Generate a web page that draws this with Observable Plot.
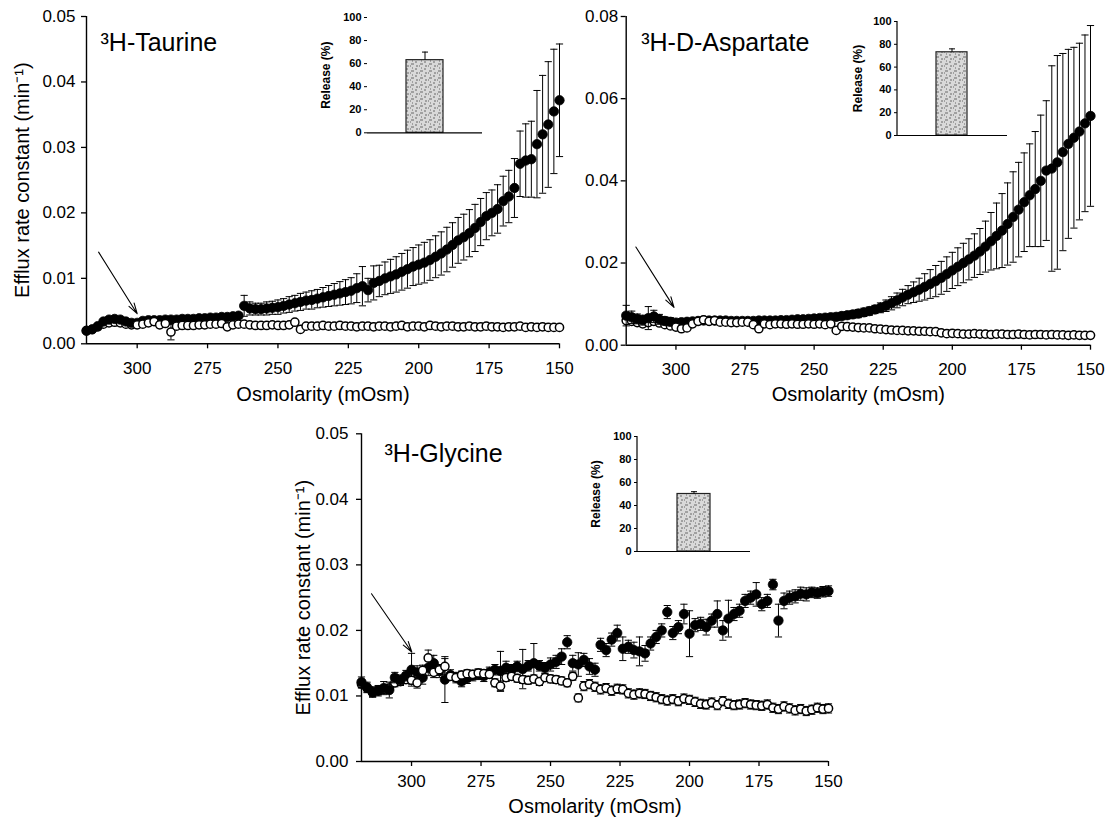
<!DOCTYPE html>
<html><head><meta charset="utf-8">
<script src="https://cdn.jsdelivr.net/npm/d3@7"></script>
<script src="https://cdn.jsdelivr.net/npm/@observablehq/plot@0.6"></script>
<style>
body{margin:0;background:#fff;}
#fig{position:relative;width:1107px;height:824px;overflow:hidden;background:#fff;}
#fig svg{position:absolute;}
</style></head><body><div id="fig"></div>
<script>
// ---------- data ----------
const osm = [
318,316,314,312,310,308,306,304,302,300,
298,296,294,292,290,288,286,284,282,280,
278,276,274,272,270,268,266,264,262,260,
258,256,254,252,250,248,246,244,242,240,
238,236,234,232,230,228,226,224,222,220,
218,216,214,212,210,208,206,204,202,200,
198,196,194,192,190,188,186,184,182,180,
178,176,174,172,170,168,166,164,162,160,
158,156,154,152,150];
const osmTicks = [300,275,250,225,200,175,150];
const osmDomain = [318,150];
const gradientStart = 300;

// Taurine
const tauFilled = [
0.0020,0.0022,0.0027,0.0034,0.0037,0.0038,0.0037,0.0034,0.0032,0.0032,
0.0035,0.0036,0.0036,0.0036,0.0037,0.0037,0.0037,0.0038,0.0038,0.0038,
0.0039,0.0039,0.0040,0.0040,0.0041,0.0041,0.0042,0.0043,0.0058,0.0054,
0.0053,0.0053,0.0054,0.0055,0.0056,0.0058,0.0060,0.0062,0.0064,0.0066,
0.0067,0.0069,0.0071,0.0073,0.0075,0.0077,0.0079,0.0081,0.0085,0.0088,
0.0082,0.0093,0.0096,0.0100,0.0103,0.0106,0.0110,0.0114,0.0118,0.0121,
0.0124,0.0128,0.0133,0.0138,0.0144,0.0151,0.0158,0.0163,0.0169,0.0177,
0.0186,0.0195,0.0200,0.0206,0.0218,0.0225,0.0238,0.0275,0.0280,0.0282,
0.0305,0.0320,0.0335,0.0355,0.0372];
const tauFilledErr = [
0.0002,0.0002,0.0003,0.0003,0.0003,0.0003,0.0003,0.0003,0.0003,0.0002,
0.0002,0.0002,0.0002,0.0002,0.0002,0.0002,0.0002,0.0002,0.0002,0.0002,
0.0002,0.0002,0.0002,0.0002,0.0002,0.0003,0.0003,0.0003,0.0016,0.0010,
0.0009,0.0009,0.0010,0.0010,0.0011,0.0011,0.0012,0.0012,0.0013,0.0013,
0.0014,0.0014,0.0015,0.0016,0.0017,0.0018,0.0019,0.0020,0.0022,0.0030,
0.0018,0.0026,0.0024,0.0025,0.0026,0.0027,0.0028,0.0029,0.0029,0.0030,
0.0031,0.0031,0.0032,0.0033,0.0034,0.0034,0.0035,0.0035,0.0036,0.0036,
0.0036,0.0036,0.0035,0.0037,0.0038,0.0040,0.0045,0.0050,0.0056,0.0058,
0.0082,0.0090,0.0096,0.0095,0.0086];
const tauOpen = [
0.0020,0.0022,0.0026,0.0030,0.0032,0.0033,0.0032,0.0030,0.0029,0.0029,
0.0030,0.0032,0.0034,0.0029,0.0031,0.0018,0.0027,0.0028,0.0028,0.0028,
0.0029,0.0029,0.0030,0.0030,0.0031,0.0026,0.0029,0.0030,0.0030,0.0029,
0.0028,0.0028,0.0028,0.0029,0.0028,0.0028,0.0029,0.0033,0.0022,0.0027,
0.0027,0.0027,0.0028,0.0027,0.0027,0.0028,0.0027,0.0027,0.0026,0.0027,
0.0027,0.0026,0.0027,0.0027,0.0026,0.0027,0.0028,0.0026,0.0027,0.0027,
0.0026,0.0028,0.0027,0.0026,0.0027,0.0027,0.0026,0.0026,0.0027,0.0026,
0.0026,0.0027,0.0026,0.0026,0.0025,0.0026,0.0026,0.0027,0.0025,0.0026,
0.0025,0.0026,0.0025,0.0025,0.0025];
const tauOpenErr = [
0.0002,0.0002,0.0002,0.0002,0.0002,0.0002,0.0002,0.0002,0.0002,0.0002,
0.0002,0.0002,0.0003,0.0002,0.0002,0.0012,0.0002,0.0002,0.0002,0.0002,
0.0002,0.0002,0.0002,0.0002,0.0002,0.0002,0.0002,0.0002,0.0002,0.0002,
0.0002,0.0002,0.0002,0.0002,0.0002,0.0002,0.0002,0.0002,0.0002,0.0002,
0.0002,0.0002,0.0002,0.0002,0.0002,0.0002,0.0002,0.0002,0.0002,0.0002,
0.0002,0.0002,0.0002,0.0002,0.0002,0.0002,0.0002,0.0002,0.0002,0.0002,
0.0002,0.0002,0.0002,0.0002,0.0002,0.0002,0.0002,0.0002,0.0002,0.0002,
0.0002,0.0002,0.0002,0.0002,0.0002,0.0002,0.0002,0.0002,0.0002,0.0002,
0.0002,0.0002,0.0002,0.0002,0.0002];
const tauYTicks = [0,0.01,0.02,0.03,0.04,0.05];

// D-Aspartate
const aspFilled = [
0.0072,0.0068,0.0064,0.0061,0.0066,0.0070,0.0063,0.0059,0.0057,0.0055,
0.0056,0.0057,0.0058,0.0059,0.0060,0.0060,0.0060,0.0060,0.0060,0.0059,
0.0059,0.0059,0.0059,0.0059,0.0060,0.0060,0.0060,0.0060,0.0061,0.0061,
0.0062,0.0063,0.0063,0.0064,0.0065,0.0066,0.0067,0.0068,0.0069,0.0071,
0.0073,0.0075,0.0077,0.0080,0.0083,0.0087,0.0091,0.0096,0.0102,0.0109,
0.0116,0.0123,0.0129,0.0135,0.0142,0.0149,0.0156,0.0164,0.0173,0.0182,
0.0191,0.0200,0.0209,0.0218,0.0228,0.0240,0.0253,0.0266,0.0279,0.0295,
0.0312,0.0330,0.0348,0.0365,0.0380,0.0400,0.0425,0.0430,0.0445,0.0470,
0.0490,0.0505,0.0520,0.0540,0.0558];
const aspFilledErr = [
0.0025,0.0015,0.0012,0.0012,0.0028,0.0015,0.0012,0.0010,0.0010,0.0008,
0.0008,0.0007,0.0007,0.0007,0.0007,0.0007,0.0007,0.0007,0.0007,0.0007,
0.0007,0.0007,0.0007,0.0007,0.0007,0.0007,0.0007,0.0007,0.0007,0.0007,
0.0007,0.0007,0.0007,0.0008,0.0008,0.0008,0.0008,0.0008,0.0009,0.0009,
0.0009,0.0009,0.0010,0.0010,0.0010,0.0010,0.0012,0.0014,0.0016,0.0018,
0.0020,0.0022,0.0025,0.0028,0.0032,0.0035,0.0038,0.0040,0.0042,0.0044,
0.0046,0.0048,0.0050,0.0053,0.0056,0.0062,0.0070,0.0080,0.0090,0.0100,
0.0110,0.0115,0.0120,0.0125,0.0140,0.0160,0.0170,0.0250,0.0260,0.0240,
0.0230,0.0220,0.0215,0.0215,0.0220];
const aspOpen = [
0.0060,0.0058,0.0055,0.0052,0.0055,0.0058,0.0054,0.0050,0.0047,0.0044,
0.0040,0.0042,0.0052,0.0058,0.0062,0.0058,0.0060,0.0056,0.0056,0.0055,
0.0055,0.0056,0.0056,0.0050,0.0040,0.0052,0.0050,0.0052,0.0052,0.0051,
0.0052,0.0051,0.0051,0.0052,0.0051,0.0052,0.0050,0.0052,0.0036,0.0046,
0.0045,0.0044,0.0043,0.0042,0.0042,0.0040,0.0039,0.0038,0.0037,0.0036,
0.0036,0.0035,0.0035,0.0034,0.0034,0.0033,0.0033,0.0030,0.0028,0.0029,
0.0028,0.0027,0.0027,0.0028,0.0027,0.0027,0.0026,0.0027,0.0027,0.0026,
0.0026,0.0027,0.0026,0.0025,0.0026,0.0026,0.0025,0.0026,0.0025,0.0025,
0.0024,0.0025,0.0024,0.0024,0.0024];
const aspOpenErr = [
0.0003,0.0003,0.0003,0.0003,0.0003,0.0003,0.0003,0.0003,0.0003,0.0003,
0.0003,0.0003,0.0003,0.0003,0.0003,0.0003,0.0003,0.0003,0.0003,0.0003,
0.0003,0.0003,0.0003,0.0003,0.0003,0.0003,0.0003,0.0003,0.0003,0.0003,
0.0003,0.0003,0.0003,0.0003,0.0003,0.0003,0.0003,0.0003,0.0003,0.0003,
0.0003,0.0003,0.0003,0.0003,0.0003,0.0003,0.0003,0.0003,0.0003,0.0003,
0.0003,0.0003,0.0003,0.0003,0.0003,0.0003,0.0003,0.0003,0.0003,0.0003,
0.0003,0.0003,0.0003,0.0003,0.0003,0.0003,0.0003,0.0003,0.0003,0.0003,
0.0003,0.0003,0.0003,0.0003,0.0003,0.0003,0.0003,0.0003,0.0003,0.0003,
0.0003,0.0003,0.0003,0.0003,0.0003];
const aspYTicks = [0,0.02,0.04,0.06,0.08];

// Glycine
const glyFilled = [
0.0121,0.0113,0.0106,0.0108,0.0112,0.0109,0.0128,0.0124,0.0131,0.0140,
0.0136,0.0128,0.0143,0.0150,0.0138,0.0125,0.0132,0.0128,0.0122,0.0127,
0.0131,0.0133,0.0130,0.0136,0.0140,0.0138,0.0143,0.0140,0.0145,0.0141,
0.0146,0.0150,0.0146,0.0143,0.0148,0.0152,0.0160,0.0182,0.0150,0.0148,
0.0155,0.0145,0.0140,0.0178,0.0170,0.0186,0.0196,0.0172,0.0175,0.0170,
0.0168,0.0165,0.0180,0.0190,0.0200,0.0228,0.0196,0.0205,0.0225,0.0195,
0.0208,0.0210,0.0205,0.0215,0.0225,0.0200,0.0218,0.0225,0.0230,0.0245,
0.0250,0.0255,0.0240,0.0245,0.0270,0.0215,0.0245,0.0250,0.0252,0.0256,
0.0255,0.0258,0.0257,0.0259,0.0260];
const glyFilledErr = [
0.0008,0.0008,0.0008,0.0008,0.0010,0.0012,0.0008,0.0008,0.0008,0.0025,
0.0010,0.0010,0.0012,0.0012,0.0010,0.0035,0.0008,0.0008,0.0008,0.0008,
0.0008,0.0008,0.0008,0.0008,0.0008,0.0030,0.0010,0.0008,0.0008,0.0030,
0.0008,0.0030,0.0008,0.0008,0.0010,0.0010,0.0012,0.0010,0.0012,0.0018,
0.0010,0.0012,0.0010,0.0010,0.0010,0.0010,0.0012,0.0018,0.0010,0.0012,
0.0022,0.0012,0.0010,0.0010,0.0010,0.0010,0.0010,0.0010,0.0015,0.0035,
0.0010,0.0010,0.0012,0.0010,0.0020,0.0015,0.0028,0.0010,0.0010,0.0010,
0.0010,0.0018,0.0010,0.0010,0.0008,0.0025,0.0012,0.0010,0.0010,0.0010,
0.0010,0.0008,0.0008,0.0008,0.0008];
const glyOpen = [
0.0118,0.0112,0.0105,0.0108,0.0110,0.0112,0.0120,0.0122,0.0125,0.0124,
0.0120,0.0139,0.0158,0.0136,0.0140,0.0145,0.0130,0.0128,0.0132,0.0134,
0.0133,0.0135,0.0134,0.0133,0.0120,0.0115,0.0128,0.0130,0.0127,0.0125,
0.0124,0.0126,0.0122,0.0128,0.0126,0.0125,0.0123,0.0120,0.0130,0.0097,
0.0115,0.0118,0.0114,0.0110,0.0112,0.0108,0.0111,0.0110,0.0104,0.0102,
0.0104,0.0103,0.0100,0.0098,0.0095,0.0093,0.0095,0.0092,0.0096,0.0094,
0.0091,0.0088,0.0087,0.0090,0.0086,0.0092,0.0088,0.0086,0.0087,0.0089,
0.0087,0.0086,0.0085,0.0087,0.0082,0.0080,0.0084,0.0081,0.0078,0.0080,
0.0077,0.0079,0.0082,0.0080,0.0081];
const glyOpenErr = [
0.0006,0.0006,0.0006,0.0006,0.0006,0.0006,0.0006,0.0006,0.0006,0.0006,
0.0008,0.0008,0.0012,0.0008,0.0008,0.0012,0.0006,0.0006,0.0006,0.0006,
0.0006,0.0006,0.0006,0.0006,0.0006,0.0008,0.0006,0.0006,0.0006,0.0006,
0.0006,0.0006,0.0006,0.0006,0.0006,0.0006,0.0006,0.0006,0.0006,0.0006,
0.0007,0.0007,0.0007,0.0007,0.0007,0.0007,0.0007,0.0007,0.0007,0.0007,
0.0007,0.0007,0.0007,0.0007,0.0007,0.0007,0.0007,0.0007,0.0007,0.0007,
0.0007,0.0007,0.0007,0.0007,0.0007,0.0007,0.0007,0.0007,0.0007,0.0007,
0.0007,0.0007,0.0007,0.0007,0.0007,0.0007,0.0007,0.0007,0.0007,0.0007,
0.0007,0.0007,0.0007,0.0007,0.0007];
const glyYTicks = [0,0.01,0.02,0.03,0.04,0.05];

// arrows [x1, y1, x2, y2] in data units
const tauArrow = [313.7, 0.0140, 300.0, 0.0046];
const aspArrow = [314.5, 0.0239, 300.7, 0.0092];
const glyArrow = [314.4, 0.0256, 299.9, 0.0167];

// insets: release (%)
const releaseCats = ["Taurine", "D-Aspartate", "Glycine"];
const releaseValues = [63, 73, 50];
const releaseErr = [7, 3, 2];
const releaseTicks = [0,20,40,60,80,100];

const titles = ["³H-Taurine", "³H-D-Aspartate", "³H-Glycine"];
const yLabelText = "Efflux rate constant (min⁻¹)";
const xLabelText = "Osmolarity (mOsm)";

// ---------- drawing ----------
const FONT = '"Liberation Sans", Arial, Helvetica, sans-serif';
const fig = document.getElementById("fig");
const cap = {draw(ctx, size){ const w = Math.sqrt(size / Math.PI); ctx.moveTo(-w, 0); ctx.lineTo(w, 0); }};

function seriesMarks(rows, key, errKey, filled) {
  const ms = [
    Plot.ruleX(rows, {x: "x", y1: d => d[key] - d[errKey], y2: d => d[key] + d[errKey], stroke: "black", strokeWidth: 1}),
    Plot.dot(rows, {x: "x", y: d => d[key] + d[errKey], symbol: cap, r: 3.6, stroke: "black", strokeWidth: 1}),
    Plot.dot(rows, {x: "x", y: d => d[key] - d[errKey], symbol: cap, r: 3.6, stroke: "black", strokeWidth: 1})
  ];
  ms.push(filled
    ? Plot.dot(rows, {x: "x", y: key, r: 4.7, fill: "black", stroke: "black", strokeWidth: 0.8})
    : Plot.dot(rows, {x: "x", y: key, r: 4.1, fill: "white", stroke: "black", strokeWidth: 1.5}));
  return ms;
}

function mainPanel(c) {
  const rows = osm.map((x, i) => ({x, f: c.filled[i], fe: c.filledErr[i], o: c.open[i], oe: c.openErr[i]}));
  const pre = rows.filter(d => d.x > gradientStart);
  const post = rows.filter(d => d.x <= gradientStart);
  const arr = [{x1: c.arrow[0], y1: c.arrow[1], x2: c.arrow[2], y2: c.arrow[3]}];
  const marks = [
    Plot.ruleY([0], {stroke: "black", strokeWidth: 1.4}),
    Plot.ruleX([osmDomain[0]], {stroke: "black", strokeWidth: 1.4}),
    Plot.axisX({ticks: osmTicks, tickFormat: d => String(d), tickSize: 5, tickPadding: c.xPad, fontSize: 17, label: null, strokeWidth: 1.3}),
    Plot.axisY({ticks: c.yTicks, tickFormat: d3.format(".2f"), tickSize: 5, tickPadding: c.yPad, fontSize: 17, label: null, strokeWidth: 1.3}),
    ...seriesMarks(pre, "o", "oe", false),
    ...seriesMarks(rows, "f", "fe", true),
    ...seriesMarks(post, "o", "oe", false),
    Plot.arrow(arr, {x1: "x1", y1: "y1", x2: "x2", y2: "y2", headLength: 15, headAngle: 32, stroke: "black", strokeWidth: 1.1}),
    Plot.text([c.title], {frameAnchor: "top-left", textAnchor: "start", lineAnchor: "top", dx: c.titleDx, dy: c.titleDy, fontSize: 25, fill: "black"}),
    Plot.text([xLabelText], {frameAnchor: "bottom", textAnchor: "middle", lineAnchor: "top", dy: c.xLabelDy, fontSize: 20, fill: "black"})
  ];
  if (c.yLabel) marks.push(Plot.text([yLabelText], {frameAnchor: "left", textAnchor: "middle", lineAnchor: "middle", rotate: -90, dx: c.yLabelDx, fontSize: 20, fill: "black"}));
  const chart = Plot.plot({
    width: c.width, height: c.height,
    marginLeft: c.ml, marginRight: c.mr, marginTop: c.mt, marginBottom: c.mb,
    x: {domain: osmDomain},
    y: {domain: [0, c.yTicks[c.yTicks.length - 1]]},
    style: {fontFamily: FONT, fontSize: "17px", color: "black", background: "none", overflow: "visible"},
    marks
  });
  chart.style.left = c.left + "px";
  chart.style.top = c.top + "px";
  fig.appendChild(chart);
}

function inset(c) {
  const d = [{k: releaseCats[c.i], v: releaseValues[c.i], e: releaseErr[c.i]}];
  const pid = "stipple" + c.i;
  const chart = Plot.plot({
    width: c.width, height: c.height,
    marginLeft: c.ml, marginRight: c.mr, marginTop: c.mt, marginBottom: c.mb,
    x: {domain: [releaseCats[c.i]], padding: c.pad, axis: null},
    y: {domain: [0, 100]},
    style: {fontFamily: FONT, fontSize: "11px", color: "black", background: "none", overflow: "visible"},
    marks: [
      Plot.barY(d, {x: "k", y: "v", fill: `url(#${pid})`, stroke: "#222", strokeWidth: 1.2}),
      Plot.ruleX(d, {x: "k", y1: "v", y2: r => r.v + r.e, stroke: "black", strokeWidth: 1}),
      Plot.dot(d, {x: "k", y: r => r.v + r.e, symbol: cap, r: 3, stroke: "black", strokeWidth: 1}),
      Plot.ruleY([0], {stroke: "black", strokeWidth: 1.2}),
      Plot.axisY({ticks: releaseTicks, tickSize: 3, tickPadding: 3, fontSize: 11, fontWeight: "bold", label: null}),
      Plot.text(["Release (%)"], {frameAnchor: "left", textAnchor: "middle", lineAnchor: "middle", rotate: -90, dx: c.labelDx, fontSize: 12, fontWeight: "bold", fill: "black"})
    ]
  });
  const svg = d3.select(chart);
  const pat = svg.insert("defs", ":first-child").append("pattern")
    .attr("id", pid).attr("patternUnits", "userSpaceOnUse").attr("width", 9).attr("height", 7);
  pat.append("rect").attr("width", 9).attr("height", 7).attr("fill", "#d9d9d9");
  pat.append("path").attr("d", "M1 1h3M6 3h2M2 5h1M5 6h2M0 3h1")
    .attr("stroke", "#5a5a5a").attr("stroke-width", 0.9).attr("fill", "none");
  if (c.axisLine) {
    const xs = chart.scale("x"), ys = chart.scale("y");
    svg.append("line")
      .attr("x1", xs.range[0]).attr("x2", xs.range[0])
      .attr("y1", ys.range[0]).attr("y2", ys.range[1])
      .attr("stroke", "black").attr("stroke-width", 1.2);
  }
  chart.style.left = c.left + "px";
  chart.style.top = c.top + "px";
  fig.appendChild(chart);
}

mainPanel({filled: tauFilled, filledErr: tauFilledErr, open: tauOpen, openErr: tauOpenErr, yTicks: tauYTicks,
  arrow: tauArrow, title: titles[0], yLabel: true,
  left: 0, top: 0, width: 590, height: 420, ml: 86, mr: 31, mt: 16, mb: 76.7,
  xPad: 13, yPad: 6, titleDx: 14, titleDy: 17, xLabelDy: 43, yLabelDx: -64});
mainPanel({filled: aspFilled, filledErr: aspFilledErr, open: aspOpen, openErr: aspOpenErr, yTicks: aspYTicks,
  arrow: aspArrow, title: titles[1], yLabel: false,
  left: 545, top: 0, width: 562, height: 420, ml: 80.7, mr: 17, mt: 16, mb: 75.3,
  xPad: 13, yPad: 3, titleDx: 15, titleDy: 17, xLabelDy: 42, yLabelDx: -64});
mainPanel({filled: glyFilled, filledErr: glyFilledErr, open: glyOpen, openErr: glyOpenErr, yTicks: glyYTicks,
  arrow: glyArrow, title: titles[2], yLabel: true,
  left: 270, top: 410, width: 600, height: 414, ml: 91, mr: 42, mt: 23.3, mb: 63,
  xPad: 8, yPad: 8, titleDx: 23, titleDy: 10, xLabelDy: 37, yLabelDx: -58});

inset({i: 0, left: 320, top: 0, width: 170, height: 145, ml: 47, mr: 8, mt: 17, mb: 12.7, pad: 0.513, labelDx: -41, axisLine: false});
inset({i: 1, left: 845, top: 0, width: 170, height: 145, ml: 52, mr: 8, mt: 21, mb: 10, pad: 0.55, labelDx: -39, axisLine: true});
inset({i: 2, left: 585, top: 420, width: 170, height: 145, ml: 52, mr: 5, mt: 16, mb: 14, pad: 0.548, labelDx: -41, axisLine: true});
</script></body></html>
